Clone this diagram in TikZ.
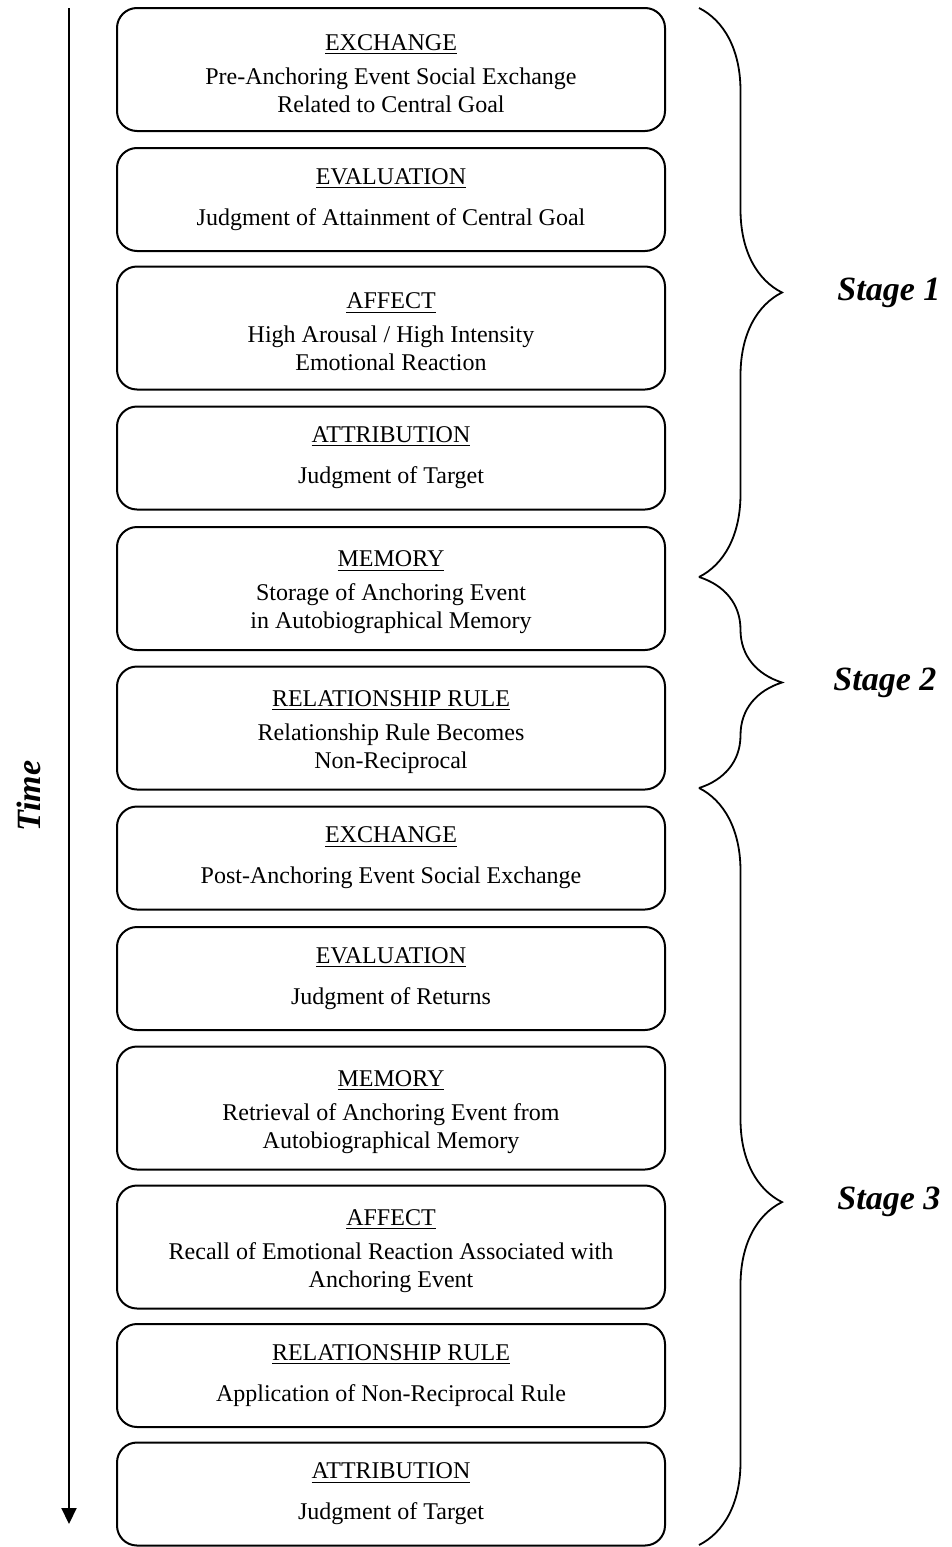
\documentclass[tikz,border=0pt]{standalone}
\usepackage{fontspec}
\setmainfont{Liberation Serif}
\usetikzlibrary{arrows.meta,decorations.pathreplacing,positioning}
\tikzset{
    phase/.style={draw, line width=1pt, rounded corners=10pt, minimum width=274pt,
        inner sep=0pt, outer sep=0pt, align=center,
        font=\fontsize{12pt}{14pt}\selectfont},
    tall/.style={phase, minimum height=61.5pt},
    short/.style={phase, minimum height=51.5pt},
    stagebrace/.style={decorate, line width=0.9pt,
        decoration={brace, amplitude=41.5pt, aspect=#1}},
    stagelabel/.style={inner sep=0pt, font=\fontsize{17pt}{19pt}\selectfont\bfseries\itshape}
}
% heading of a box: short boxes get a wider gap
\newcommand{\head}[1]{\underline{#1}\\[6.5pt]}
\newcommand{\headt}[1]{\rule{0pt}{12pt}\underline{#1}\\[3pt]}

\begin{document}
\begin{tikzpicture}[x=0.5pt, y=-0.5pt]
    \useasboundingbox (0,0) rectangle (952,1547);

    % time axis
    \coordinate (tstart) at (69,8);
    \coordinate (tend) at (69,1524);
    \draw[line width=1pt, -{Triangle[width=7.5pt,length=8pt]}] (tstart) -- (tend);
    \node[stagelabel, rotate=90] (time) at (29,796) {Time};

    % stage 1
    \node[tall]  (ex1)  at (391,69.5)  {\headt{EXCHANGE}Pre-Anchoring Event Social Exchange\\Related to Central Goal};
    \node[short] (ev1)  at (391,199.5) {\head{EVALUATION}Judgment of Attainment of Central Goal};
    \node[tall]  (af1)  at (391,328)   {\headt{AFFECT}High Arousal / High Intensity\\Emotional Reaction};
    \node[short] (at1)  at (391,458)   {\head{ATTRIBUTION}Judgment of Target};

    % stage 2
    \node[tall]  (me1)  at (391,588.5) {\headt{MEMORY}Storage of Anchoring Event\\in Autobiographical Memory};
    \node[tall]  (rr1)  at (391,728)   {\headt{RELATIONSHIP RULE}Relationship Rule Becomes\\Non-Reciprocal};

    % stage 3
    \node[short] (ex2)  at (391,858)   {\head{EXCHANGE}Post-Anchoring Event Social Exchange};
    \node[short] (ev2)  at (391,978.5) {\head{EVALUATION}Judgment of Returns};
    \node[tall]  (me2)  at (391,1108)  {\headt{MEMORY}Retrieval of Anchoring Event from\\Autobiographical Memory};
    \node[tall]  (af2)  at (391,1247)  {\headt{AFFECT}Recall of Emotional Reaction Associated with\\Anchoring Event};
    \node[short] (rr2)  at (391,1375.5){\head{RELATIONSHIP RULE}Application of Non-Reciprocal Rule};
    \node[short] (at2)  at (391,1494)  {\head{ATTRIBUTION}Judgment of Target};

    % braces
    \coordinate (b1) at (699,8);
    \coordinate (b2) at (699,577);
    \coordinate (b3) at (699,788);
    \coordinate (b4) at (699,1545);
    \draw[stagebrace=0.5]   (b1) -- (b2);
    \draw[stagebrace=0.5]   (b2) -- (b3);
    \draw[stagebrace=0.547] (b3) -- (b4);

    \node[stagelabel, anchor=west] (stage1) at (837,293)  {Stage 1};
    \node[stagelabel, anchor=west] (stage2) at (833,683)  {Stage 2};
    \node[stagelabel, anchor=west] (stage3) at (837,1202) {Stage 3};
\end{tikzpicture}
\end{document}
